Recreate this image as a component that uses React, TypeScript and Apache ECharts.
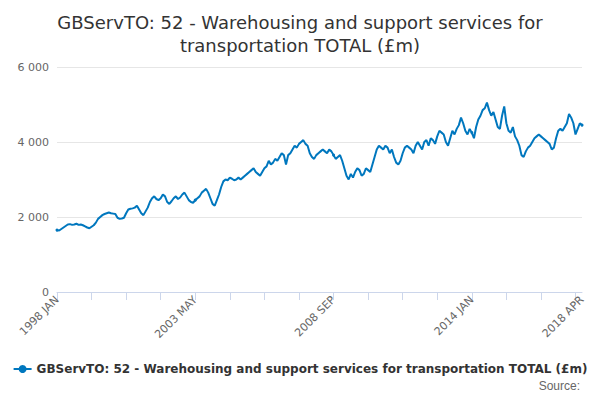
import React, { useEffect, useRef } from 'react';
import * as echarts from 'echarts';

const MONTHS = ['JAN', 'FEB', 'MAR', 'APR', 'MAY', 'JUN', 'JUL', 'AUG', 'SEP', 'OCT', 'NOV', 'DEC'];

const yearly: number[][] = [
  [1650, 1640, 1680, 1720, 1760, 1800, 1810, 1790, 1800, 1820, 1790, 1800],
  [1780, 1750, 1720, 1700, 1740, 1780, 1850, 1950, 2000, 2050, 2080, 2100],
  [2120, 2100, 2090, 2080, 1980, 1950, 1960, 1980, 2100, 2200, 2220, 2230],
  [2250, 2300, 2200, 2100, 2050, 2150, 2250, 2400, 2500, 2550, 2480, 2450],
  [2500, 2600, 2550, 2400, 2350, 2420, 2500, 2550, 2480, 2520, 2600, 2650],
  [2550, 2450, 2400, 2380, 2450, 2500, 2550, 2650, 2700, 2750, 2650, 2500],
  [2350, 2300, 2450, 2600, 2800, 2950, 3000, 2980, 3050, 3020, 2980, 3000],
  [3050, 3000, 3050, 3100, 3150, 3200, 3250, 3300, 3200, 3150, 3100, 3200],
  [3300, 3350, 3500, 3400, 3450, 3550, 3500, 3600, 3700, 3650, 3400, 3650],
  [3700, 3800, 3900, 3850, 3950, 4000, 4050, 3950, 3900, 3700, 3600, 3550],
  [3650, 3700, 3750, 3800, 3750, 3700, 3800, 3750, 3650, 3550, 3600, 3650],
  [3500, 3300, 3100, 3000, 3150, 3050, 3200, 3300, 3250, 3100, 3150, 3300],
  [3250, 3200, 3400, 3600, 3800, 3900, 3850, 3800, 3900, 3850, 3700, 3800],
  [3600, 3450, 3400, 3500, 3700, 3850, 3900, 3850, 3800, 3700, 3900, 4000],
  [3900, 3800, 4000, 4050, 3900, 4100, 4050, 3950, 4150, 4300, 4250, 4200],
  [4000, 3900, 4100, 4300, 4200, 4350, 4450, 4650, 4500, 4300, 4200, 4350],
  [4250, 4100, 4400, 4600, 4700, 4850, 4900, 5050, 4850, 4700, 4800, 4600],
  [4400, 4350, 4700, 4950, 4500, 4300, 4250, 4400, 4150, 4050, 3900, 3650],
  [3600, 3750, 3850, 3900, 4000, 4100, 4150, 4200, 4150, 4100, 4050, 4000],
  [3950, 3800, 3850, 4100, 4300, 4350, 4300, 4400, 4500, 4750, 4650, 4500],
  [4200, 4350, 4500, 4450],
];

const categories: string[] = [];
const values: number[] = [];
yearly.forEach((row, i) =>
  row.forEach((v, m) => {
    categories.push(`${1998 + i} ${MONTHS[m]}`);
    values.push(v);
  })
);

const labelIdx = [0, 64, 128, 192, categories.length - 1];
const seriesName = 'GBServTO: 52 - Warehousing and support services for transportation TOTAL (£m)';

export default function App() {
  const ref = useRef<HTMLDivElement>(null);

  useEffect(() => {
    if (!ref.current) return;
    const chart = echarts.init(ref.current, null, { renderer: 'svg' });
    chart.setOption({
      animation: false,
      textStyle: { fontFamily: 'DejaVu Sans' },
      title: {
        text: 'GBServTO: 52 - Warehousing and support services for\ntransportation TOTAL (£m)',
        left: 'center',
        top: -2,
        textStyle: { fontSize: 18, fontWeight: 'normal', color: '#333', lineHeight: 23 },
      },
      grid: { left: 49, right: 10, top: 59, bottom: 100 },
      xAxis: {
        type: 'category',
        data: categories,
        boundaryGap: false,
        axisLine: { lineStyle: { color: '#ccd6eb' } },
        axisTick: { interval: 15, lineStyle: { color: '#ccd6eb' }, length: 8 },
        axisLabel: {
          interval: (i: number) => labelIdx.includes(i),
          rotate: 45,
          color: '#666',
          fontSize: 11,
          margin: 6,
        },
      },
      yAxis: {
        type: 'value',
        min: 0,
        max: 6000,
        interval: 2000,
        axisLabel: { color: '#666', fontSize: 11, formatter: (v: number) => (v >= 1000 ? String(v).replace(/(\d)(\d{3})$/, '$1 $2') : String(v)) },
        splitLine: { lineStyle: { color: '#e6e6e6' } },
      },
      legend: {
        bottom: 12,
        left: 'center',
        itemWidth: 18,
        itemHeight: 10,
        textStyle: { fontSize: 12, fontWeight: 'bold', color: '#333' },
      },
      graphic: [
        { type: 'text', right: 12, bottom: 0, style: { text: 'Source:', fontSize: 12, fill: '#666' } },
      ],
      series: [
        {
          name: seriesName,
          type: 'line',
          data: values,
          symbol: 'circle',
          symbolSize: 3,
          lineStyle: { color: '#0077be', width: 2 },
          itemStyle: { color: '#0077be' },
        },
      ],
    });
    return () => chart.dispose();
  }, []);

  return <div ref={ref} style={{ width: 584, height: 384 }} />;
}
